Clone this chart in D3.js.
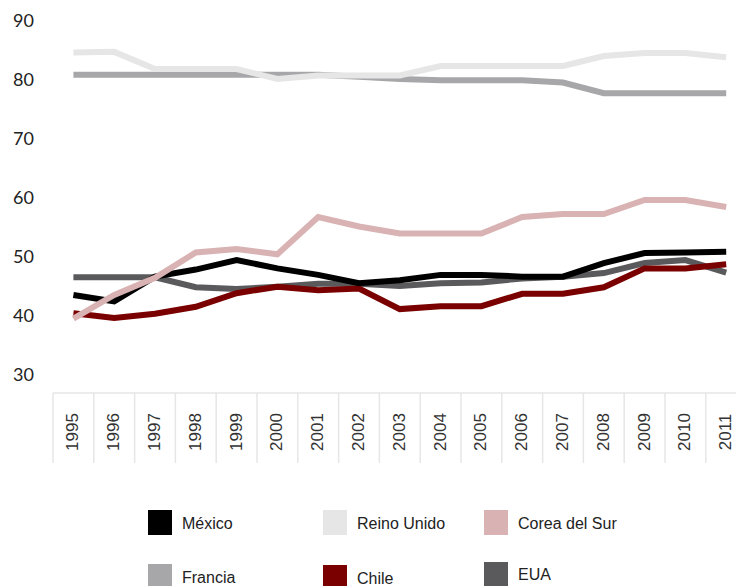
<!DOCTYPE html>
<html>
<head>
<meta charset="utf-8">
<script src="https://cdn.jsdelivr.net/npm/d3@7"></script>
<style>
  html, body { margin: 0; padding: 0; background: #fff; }
  svg { display: block; }
</style>
</head>
<body>
<svg id="chart" width="736" height="586"></svg>
<script>
// Years on the x axis
const years = ["1995","1996","1997","1998","1999","2000","2001","2002","2003",
               "2004","2005","2006","2007","2008","2009","2010","2011"];

// Series values, one per year
const francia     = [80.7,80.7,80.7,80.7,80.7,80.7,80.7,80.4,80.0,79.8,79.8,79.8,79.4,77.6,77.6,77.6,77.6];
const reinoUnido  = [84.5,84.6,81.7,81.7,81.7,80.0,80.6,80.6,80.6,82.2,82.2,82.2,82.2,83.9,84.4,84.4,83.7];
const eua         = [46.4,46.4,46.4,44.7,44.4,44.8,45.3,45.3,44.9,45.4,45.5,46.2,46.5,47.1,48.8,49.3,47.2];
const chile       = [40.3,39.5,40.2,41.4,43.7,44.8,44.2,44.5,41.0,41.5,41.5,43.6,43.6,44.7,47.9,47.9,48.6];
const mexico      = [43.4,42.3,46.5,47.7,49.3,47.9,46.8,45.4,45.9,46.8,46.8,46.5,46.5,48.8,50.5,50.6,50.7];
const coreaDelSur = [39.4,43.4,46.3,50.6,51.2,50.3,56.6,55.0,53.8,53.8,53.8,56.6,57.1,57.1,59.5,59.5,58.3];

// Y axis ticks
const yTicks = [30, 40, 50, 60, 70, 80, 90];

// Drawing order (later series on top)
const series = [
  { name: "Francia",       values: francia,     color: "#a7a7a9" },
  { name: "Reino Unido",   values: reinoUnido,  color: "#e6e6e7" },
  { name: "EUA",           values: eua,         color: "#5a5a5c" },
  { name: "Chile",         values: chile,       color: "#7a0000" },
  { name: "México",        values: mexico,      color: "#000000" },
  { name: "Corea del Sur", values: coreaDelSur, color: "#d9b3b3" }
];

// Legend layout: [name, column x, square top, text center y]
const legendItems = [
  ["México",        148, 510, 523],
  ["Reino Unido",   323, 510, 523],
  ["Corea del Sur", 484, 510, 523],
  ["Francia",       148, 564, 577],
  ["Chile",         323, 565, 578],
  ["EUA",           484, 562, 574]
];

const svg = d3.select("#chart");

const x = d3.scaleBand().domain(years).range([53, 53 + 17 * 40.8]).padding(0);
const y = d3.scaleLinear().domain([30, 90]).range([374, 20]);

// Y tick labels
svg.append("g").selectAll("text").data(yTicks).join("text")
  .attr("x", 34).attr("y", d => y(d))
  .attr("text-anchor", "end").attr("dominant-baseline", "central")
  .attr("font-family", "Lato, 'Open Sans', sans-serif")
  .attr("font-size", 18).attr("fill", "#222")
  .text(d => d);

// Year table below the plot
const axisTop = 393, axisBottom = 463;
const grid = svg.append("g").attr("stroke", "#e6e6e6").attr("stroke-width", 1.5);
grid.append("line")
  .attr("x1", x.range()[0]).attr("x2", x.range()[1])
  .attr("y1", axisTop).attr("y2", axisTop);
grid.selectAll("line.v").data(years.concat(["end"])).join("line").attr("class", "v")
  .attr("x1", (d, i) => x.range()[0] + i * x.bandwidth())
  .attr("x2", (d, i) => x.range()[0] + i * x.bandwidth())
  .attr("y1", axisTop).attr("y2", axisBottom);

svg.append("g").selectAll("text").data(years).join("text")
  .attr("transform", d => `translate(${x(d) + x.bandwidth() / 2 + 5},${(axisTop + axisBottom) / 2 + 4}) rotate(-90)`)
  .attr("text-anchor", "middle")
  .attr("font-family", "'Liberation Sans', Arial, sans-serif")
  .attr("font-size", 17).attr("fill", "#333")
  .text(d => d);

// Lines
const line = d3.line()
  .x((d, i) => x(years[i]) + x.bandwidth() / 2)
  .y(d => y(d));

svg.append("g").selectAll("path").data(series).join("path")
  .attr("d", d => line(d.values))
  .attr("fill", "none")
  .attr("stroke", d => d.color)
  .attr("stroke-width", 6)
  .attr("stroke-linejoin", "miter");

// Legend
const colorOf = Object.fromEntries(series.map(s => [s.name, s.color]));
const lg = svg.append("g").selectAll("g").data(legendItems).join("g");
lg.append("rect")
  .attr("x", d => d[1]).attr("y", d => d[2])
  .attr("width", 24).attr("height", 25)
  .attr("fill", d => colorOf[d[0]]);
lg.append("text")
  .attr("x", d => d[1] + 34).attr("y", d => d[3])
  .attr("dominant-baseline", "central")
  .attr("font-family", "'Liberation Sans', Arial, sans-serif")
  .attr("font-size", 16).attr("fill", "#222")
  .text(d => d[0]);
</script>
</body>
</html>
